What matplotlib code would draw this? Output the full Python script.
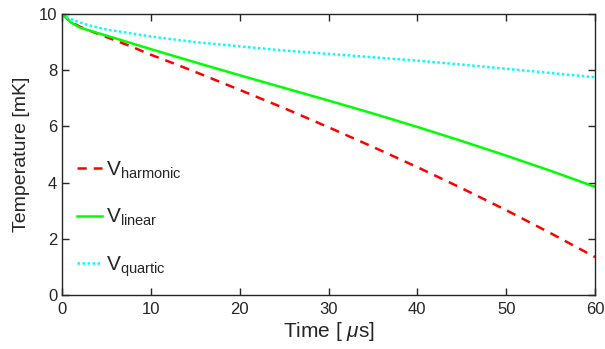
import matplotlib
matplotlib.use("Agg")
import matplotlib.pyplot as plt

plt.rcParams['font.family'] = ['Liberation Sans', 'DejaVu Sans']
plt.rcParams['mathtext.fontset'] = 'custom'
plt.rcParams['mathtext.rm'] = 'Liberation Sans'
plt.rcParams['mathtext.it'] = 'Liberation Sans:italic'

# 数据
t_harm = [0, 1, 2, 3, 5, 7.5, 10, 12.5, 15, 20, 25, 30, 35, 40, 45, 50, 55, 60]
T_harm = [10, 9.72, 9.55, 9.42, 9.18, 8.88, 8.55, 8.25, 7.94, 7.3, 6.65, 5.97, 5.27, 4.55, 3.8, 3.02, 2.2, 1.35]

t_lin = [0, 1, 2, 3, 5, 10, 15, 20, 25, 30, 35, 40, 45, 50, 55, 60]
T_lin = [10, 9.7, 9.52, 9.42, 9.23, 8.75, 8.28, 7.82, 7.37, 6.92, 6.46, 5.98, 5.48, 4.96, 4.42, 3.85]

t_quart = [0, 0.5, 1, 2, 3, 5, 10, 15, 20, 25, 30, 35, 40, 45, 50, 55, 60]
T_quart = [10, 9.9, 9.82, 9.7, 9.6, 9.45, 9.2, 9.0, 8.85, 8.7, 8.58, 8.46, 8.34, 8.2, 8.05, 7.9, 7.75]

labels = [r'V$_\mathrm{harmonic}$', r'V$_\mathrm{linear}$', r'V$_\mathrm{quartic}$']

fig = plt.figure(figsize=(6.05, 3.49), dpi=100)
ax = fig.add_axes([0.1025, 0.1547, 0.881, 0.8052])

ax.plot(t_harm, T_harm, color='#ff0000', linestyle=(0, (3.7, 2.8)), lw=1.8, label=labels[0])
ax.plot(t_lin, T_lin, color='#00ff00', linestyle='-', lw=1.8, label=labels[1])
ax.plot(t_quart, T_quart, color='#00ffff', linestyle=(0, (1, 1)), lw=1.8,
        dash_capstyle='butt', label=labels[2])

ax.set_xlim(0, 60)
ax.set_ylim(0, 10)
ax.set_xticks(range(0, 61, 10))
ax.set_yticks(range(0, 11, 2))

gray = '#262626'
for s in ax.spines.values():
    s.set_color(gray)
    s.set_linewidth(1.0)
ax.tick_params(direction='in', top=True, right=True, colors=gray, labelsize=12,
               length=5, width=1.0)
ax.tick_params(axis='x', pad=5)

ax.set_xlabel(r'Time [ $\mu$s]', fontsize=15, color=gray, labelpad=2)
ax.set_ylabel('Temperature [mK]', fontsize=14, color=gray, labelpad=6)

leg = ax.legend(loc='center left', bbox_to_anchor=(0.0, 0.27), frameon=False,
                fontsize=15, handlelength=1.2, handletextpad=0.2,
                labelspacing=1.25, borderaxespad=0.3)
for txt in leg.get_texts():
    txt.set_color(gray)

plt.savefig("out.png", dpi=100)
